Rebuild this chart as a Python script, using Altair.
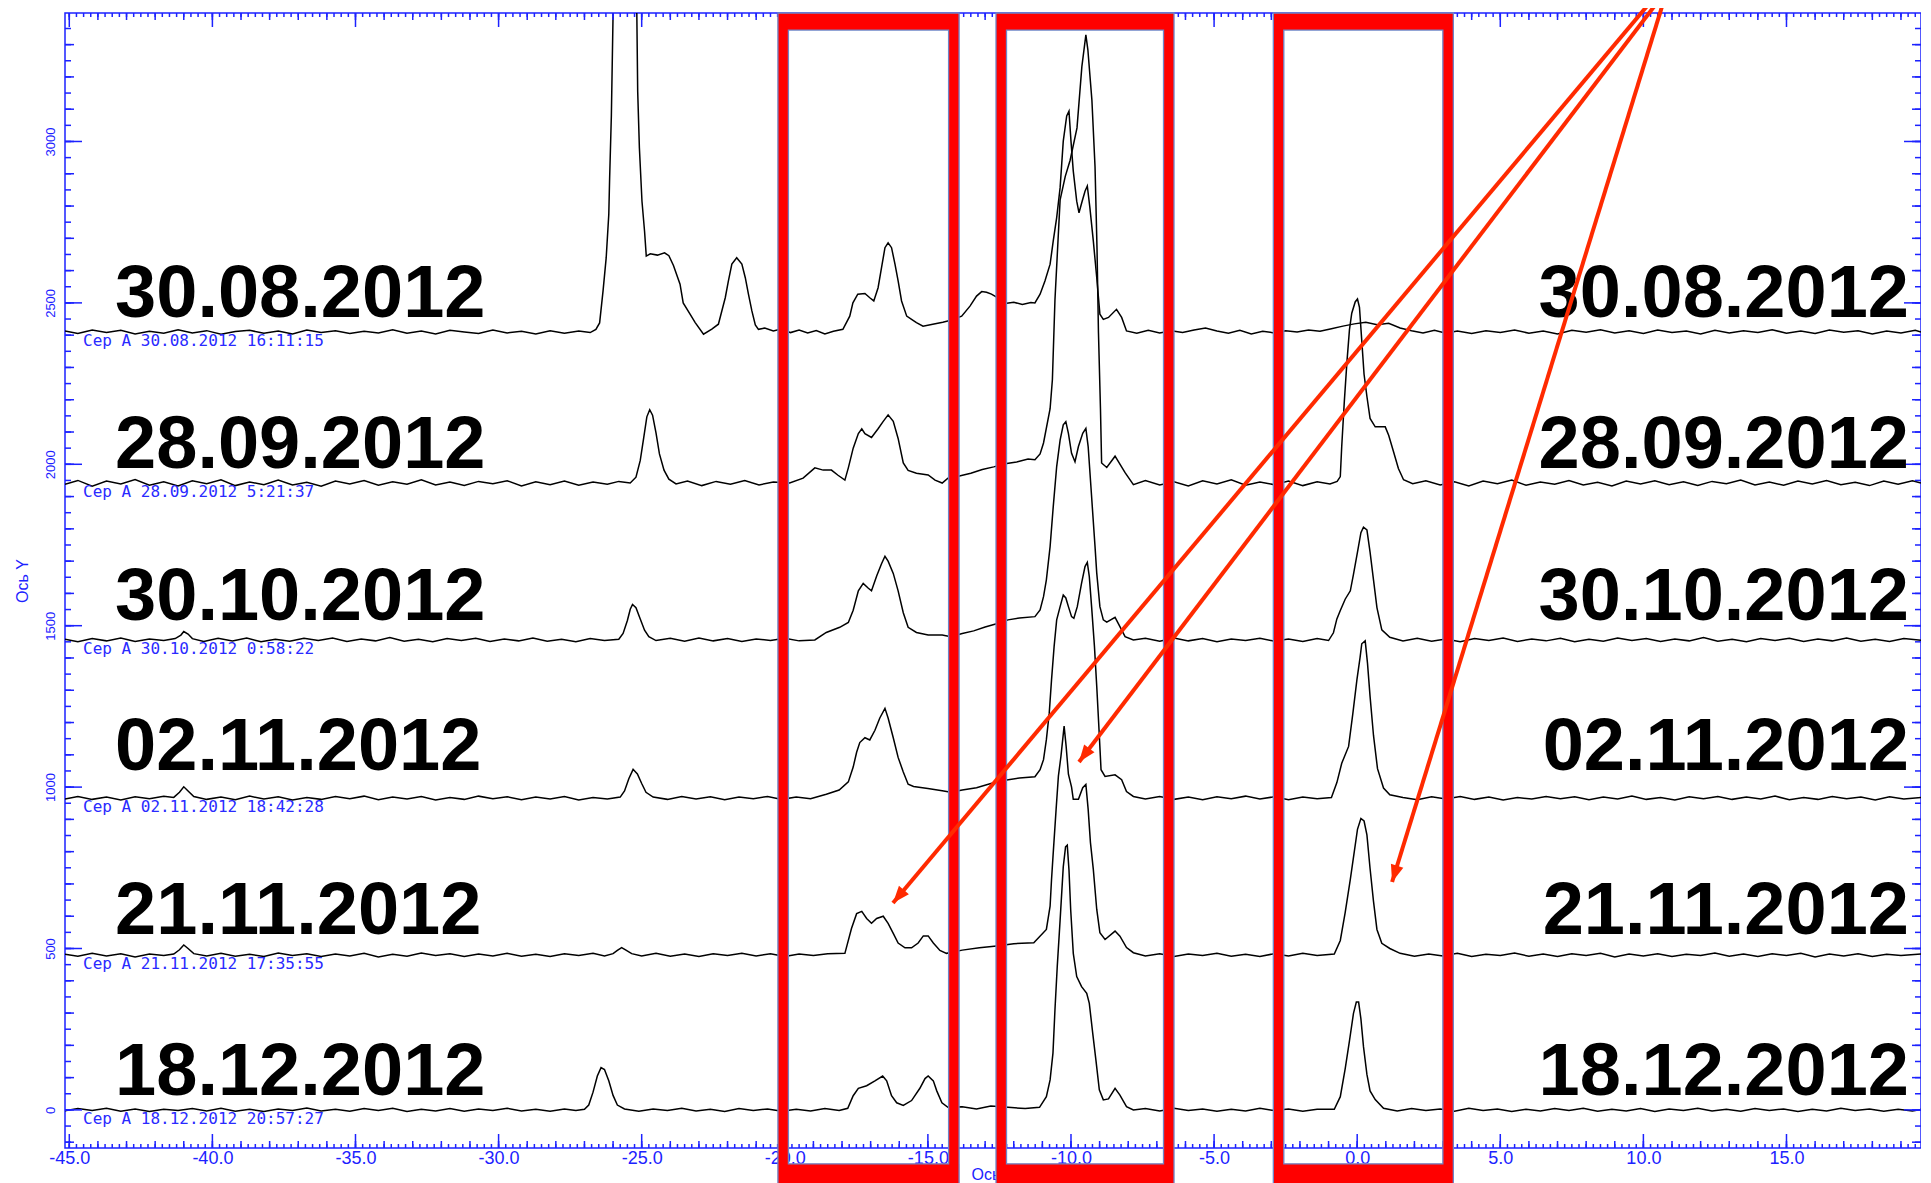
import math
import altair as alt
import pandas as pd
import numpy as np

# ---------------- data ----------------
dates = ["30.08.2012", "28.09.2012", "30.10.2012", "02.11.2012", "21.11.2012", "18.12.2012"]
stamps = ["Cep A 30.08.2012 16:11:15", "Cep A 28.09.2012 5:21:37", "Cep A 30.10.2012 0:58:22",
          "Cep A 02.11.2012 18:42:28", "Cep A 21.11.2012 17:35:55", "Cep A 18.12.2012 20:57:27"]
offsets = [2410, 1942, 1456, 966, 480, 0]          # vertical offset of each spectrum
label_y = [2455, 1990, 1517, 1052, 545, 46]         # baseline of the big date labels (data units)

# (velocity, intensity above own baseline)
spec_3008 = [(-45.15,3),(-44.7,-5),(-44.2,6),(-43.7,-2),(-43.2,5),(-42.7,-6),(-42.2,2),(-41.7,-4),(-41.2,7),(-40.7,-3),
 (-40.2,4),(-39.7,-7),(-39.2,1),(-38.7,5),(-38.2,-4),(-37.7,3),(-37.2,-6),(-36.7,6),(-36.2,-2),(-35.7,4),(-35.2,-5),
 (-34.7,2),(-34.2,-3),(-33.7,7),(-33.2,-4),(-32.7,3),(-32.2,-6),(-31.7,5),(-31.2,0),(-30.7,-5),(-30.2,6),(-29.7,-3),
 (-29.2,2),(-28.7,-6),(-28.2,4),(-27.7,-4),(-27.2,3),(-26.8,-2),(-26.6,8),(-26.47,28),(-26.35,127),(-26.24,230),
 (-26.15,364),(-26.12,477),(-26.06,669),(-26.0,985),(-25.6,1400),(-25.17,985),(-25.14,746),(-25.08,570),(-24.99,405),
 (-24.9,312),(-24.84,235),(-24.7,242),(-24.45,238),(-24.2,245),(-24.05,236),(-23.89,206),(-23.66,148),(-23.55,90),
 (-23.31,55),(-23.13,29),(-22.84,-7),(-22.55,9),(-22.32,24),(-22.2,65),(-22.08,106),(-21.97,158),(-21.85,210),
 (-21.68,230),(-21.5,210),(-21.38,168),(-21.27,117),(-21.15,65),(-21.03,22),(-20.92,8),(-20.7,12),(-20.4,3),(-20.1,10),
 (-19.8,-2),(-19.5,6),(-19.2,-3),(-18.9,4),(-18.6,-6),(-18.3,2),(-17.97,8),(-17.73,49),(-17.62,90),(-17.45,117),
 (-17.2,119),(-17.03,106),(-16.89,96),(-16.74,137),(-16.62,199),(-16.5,261),(-16.39,276),(-16.27,261),(-16.15,210),
 (-16.04,158),(-15.92,96),(-15.74,49),(-15.57,39),(-15.4,29),(-15.17,18),(-14.83,24),(-14.48,30),(-14.2,36),(-13.82,49),
 (-13.53,80),(-13.3,111),(-13.12,125),(-12.95,123),(-12.78,117),(-12.6,108),(-12.3,88),(-12.0,92),(-11.7,85),(-11.4,91),
 (-11.26,90),(-11.08,117),(-10.91,158),(-10.73,210),(-10.62,282),(-10.5,354),(-10.38,447),(-10.27,591),(-10.15,669),
 (-10.07,684),(-10.0,591),(-9.92,498),(-9.8,405),(-9.72,369),(-9.61,405),(-9.51,436),(-9.43,452),(-9.34,385),(-9.22,282),
 (-9.1,168),(-8.99,55),(-8.87,39),(-8.69,45),(-8.41,70),(-8.23,45),(-8.06,3),(-7.7,-4),(-7.3,5),(-6.9,-3),(-6.5,4),
 (-6.1,-2),(-5.7,6),(-5.3,12),(-4.9,3),(-4.5,-4),(-4.1,5),(-3.7,-6),(-3.3,2),(-2.9,-3),(-2.5,4),(-2.1,0),(-1.7,6),
 (-1.3,2),(-0.9,10),(-0.5,18),(-0.1,25),(0.3,30),(0.7,22),(1.1,27),(1.5,12),(1.9,4),(2.3,-3),(2.7,5),(3.1,-4),(3.5,3),
 (4.0,-5),(4.5,4),(5.0,-2),(5.5,6),(6.0,-4),(6.5,3),(7.0,-6),(7.5,5),(8.0,-1),(8.5,7),(9.0,-3),(9.5,4),(10.0,-5),
 (10.5,6),(11.0,-2),(11.5,3),(12.0,-6),(12.5,5),(13.0,-3),(13.5,4),(14.0,-2),(14.5,7),(15.0,-4),(15.5,3),(16.0,-5),
 (16.5,6),(17.0,-1),(17.5,4),(18.0,-6),(18.5,3),(19.0,-3),(19.5,5),(19.7,0)]

spec_2809 = [(-45.15,-4),(-44.7,8),(-44.2,-10),(-43.7,6),(-43.2,-3),(-42.7,11),(-42.2,-7),(-41.7,4),(-41.2,-9),(-40.7,7),
 (-40.2,-2),(-39.7,10),(-39.2,-8),(-38.7,3),(-38.2,-5),(-37.7,9),(-37.2,-6),(-36.7,2),(-36.2,-10),(-35.7,6),(-35.2,-3),
 (-34.7,8),(-34.2,-7),(-33.7,4),(-33.2,-4),(-32.7,10),(-32.2,-6),(-31.7,3),(-31.2,-8),(-30.7,5),(-30.2,-2),(-29.7,7),
 (-29.2,-9),(-28.7,4),(-28.2,-5),(-27.7,6),(-27.2,-7),(-26.7,3),(-26.2,-4),(-25.8,5),(-25.4,0),(-25.2,18),(-25.05,70),
 (-24.93,140),(-24.82,205),(-24.72,227),(-24.62,210),(-24.5,155),(-24.38,90),(-24.22,40),(-24.05,12),(-23.8,-3),
 (-23.4,6),(-22.9,-8),(-22.4,5),(-21.9,-4),(-21.4,8),(-20.9,-6),(-20.4,3),(-19.83,0),(-19.36,15),(-18.95,47),
 (-18.66,40),(-18.37,40),(-18.14,24),(-17.9,9),(-17.78,47),(-17.61,108),(-17.43,153),(-17.31,168),(-17.2,153),
 (-16.97,141),(-16.74,168),(-16.56,191),(-16.39,211),(-16.21,191),(-16.04,138),(-15.86,62),(-15.69,39),(-15.4,30),
 (-14.99,25),(-14.75,9),(-14.5,0),(-14.3,15),(-13.9,22),(-13.5,30),(-13.1,42),(-12.7,50),(-12.3,60),(-11.9,65),
 (-11.5,74),(-11.26,72),(-11.08,90),(-10.96,124),(-10.73,230),(-10.65,320),(-10.56,568),(-10.38,877),(-10.2,950),
 (-10.03,1000),(-9.79,1100),(-9.62,1290),(-9.48,1388),(-9.41,1342),(-9.27,1187),(-9.16,980),(-9.09,723),(-9.04,466),
 (-8.97,230),(-8.93,62),(-8.75,48),(-8.46,83),(-8.11,32),(-7.82,-5),(-7.4,8),(-6.9,-6),(-6.4,4),(-5.9,-9),(-5.4,7),
 (-4.9,-3),(-4.4,10),(-3.9,-7),(-3.4,3),(-2.9,-5),(-2.4,6),(-1.9,-8),(-1.4,4),(-0.95,-3),(-0.7,5),(-0.59,20),
 (-0.54,114),(-0.45,252),(-0.36,373),(-0.27,475),(-0.19,526),(-0.07,561),(0.01,570),(0.08,544),(0.16,441),(0.24,337),
 (0.34,268),(0.45,200),(0.63,174),(0.8,174),(0.98,174),(1.1,148),(1.27,97),(1.44,45),(1.62,10),(1.94,-2),(2.4,7),
 (2.9,-6),(3.4,4),(3.9,-9),(4.4,6),(4.9,-2),(5.4,9),(5.9,-7),(6.4,3),(6.9,-4),(7.4,8),(7.9,-6),(8.4,2),(8.9,-9),(9.4,6),
 (9.9,-3),(10.4,7),(10.9,-5),(11.4,4),(11.9,-8),(12.4,5),(12.9,-2),(13.4,9),(13.9,-6),(14.4,3),(14.9,-7),(15.4,6),
 (15.9,-3),(16.4,8),(16.9,-5),(17.4,2),(17.9,-8),(18.4,6),(18.9,-4),(19.4,7),(19.7,0)]

spec_3010 = [(-45.15,2),(-44.7,-6),(-44.2,4),(-43.7,-3),(-43.2,6),(-42.7,-5),(-42.2,3),(-41.7,-2),(-41.3,4),(-41.1,15),
 (-41.0,26),(-40.85,18),(-40.7,4),(-40.3,-5),(-39.8,5),(-39.3,-3),(-38.8,6),(-38.3,-6),(-37.8,2),(-37.3,-4),(-36.8,5),
 (-36.3,-2),(-35.8,6),(-35.3,-5),(-34.8,3),(-34.3,-3),(-33.8,7),(-33.3,-4),(-32.8,2),(-32.3,-6),(-31.8,4),(-31.3,-2),
 (-30.8,5),(-30.3,-5),(-29.8,3),(-29.3,-3),(-28.8,6),(-28.3,-4),(-27.8,2),(-27.3,-6),(-26.8,4),(-26.3,-2),(-25.8,2),
 (-25.65,20),(-25.5,60),(-25.4,95),(-25.32,110),(-25.2,100),(-25.05,65),(-24.9,30),(-24.75,10),(-24.5,-2),(-24.0,5),
 (-23.5,-4),(-23.0,6),(-22.5,-3),(-22.0,4),(-21.5,-5),(-21.0,3),(-20.5,-2),(-20.0,5),(-19.5,-3),(-18.95,0),(-18.55,23),
 (-18.08,39),(-17.78,54),(-17.61,92),(-17.43,152),(-17.26,175),(-17.08,160),(-16.97,152),(-16.79,198),(-16.62,236),
 (-16.5,259),(-16.39,244),(-16.21,206),(-16.04,152),(-15.86,84),(-15.69,39),(-15.4,23),(-14.99,15),(-14.5,15),
 (-14.2,10),(-13.8,20),(-13.4,28),(-13.0,40),(-12.6,50),(-12.2,62),(-11.8,68),(-11.26,72),(-11.08,93),(-10.96,134),
 (-10.86,186),(-10.73,289),(-10.62,413),(-10.5,537),(-10.38,619),(-10.27,666),(-10.18,676),(-10.09,640),(-9.98,578),
 (-9.86,552),(-9.74,599),(-9.59,640),(-9.48,655),(-9.4,599),(-9.28,444),(-9.16,289),(-9.1,207),(-8.99,103),(-8.87,62),
 (-8.75,55),(-8.46,70),(-8.29,41),(-8.11,10),(-7.82,0),(-7.4,5),(-6.9,-4),(-6.4,6),(-5.9,-3),(-5.4,4),(-4.9,-6),
 (-4.4,3),(-3.9,-2),(-3.4,5),(-2.9,-4),(-2.4,3),(-1.9,-5),(-1.4,4),(-1.0,-2),(-0.83,22),(-0.71,65),(-0.59,91),
 (-0.42,126),(-0.24,152),(-0.13,203),(0.01,272),(0.13,332),(0.22,349),(0.34,341),(0.45,272),(0.57,186),(0.69,100),
 (0.86,31),(1.14,8),(1.6,-3),(2.1,5),(2.6,-4),(3.1,3),(3.6,-6),(4.1,4),(4.6,-2),(5.1,6),(5.6,-5),(6.1,3),(6.6,-3),
 (7.1,5),(7.6,-6),(8.1,2),(8.6,-4),(9.1,6),(9.6,-2),(10.1,4),(10.6,-5),(11.1,3),(11.6,-3),(12.1,7),(12.6,-4),(13.1,2),
 (13.6,-6),(14.1,4),(14.6,-2),(15.1,5),(15.6,-5),(16.1,3),(16.6,-3),(17.1,6),(17.6,-4),(18.1,2),(18.6,-5),(19.1,4),
 (19.7,-1)]

spec_0211 = [(-45.15,-3),(-44.7,5),(-44.2,-4),(-43.7,3),(-43.2,-6),(-42.7,4),(-42.2,-2),(-41.7,6),(-41.35,2),(-41.15,18),
 (-41.0,35),(-40.85,22),(-40.65,5),(-40.2,-4),(-39.7,3),(-39.2,-5),(-38.7,6),(-38.2,-3),(-37.7,4),(-37.2,-6),(-36.7,2),
 (-36.2,-4),(-35.7,5),(-35.2,-2),(-34.7,6),(-34.2,-5),(-33.7,3),(-33.2,-3),(-32.7,5),(-32.2,-6),(-31.7,2),(-31.2,-4),
 (-30.7,6),(-30.2,-2),(-29.7,4),(-29.2,-5),(-28.7,3),(-28.2,-3),(-27.7,5),(-27.2,-6),(-26.7,2),(-26.2,-3),(-25.75,3),
 (-25.6,22),(-25.45,60),(-25.3,89),(-25.15,75),(-25.0,45),(-24.85,18),(-24.6,3),(-24.1,-4),(-23.6,5),(-23.1,-3),
 (-22.6,4),(-22.1,-5),(-21.6,3),(-21.1,-2),(-20.6,5),(-20.1,-4),(-19.6,3),(-19.1,-2),(-18.55,12),(-18.1,25),(-17.78,50),
 (-17.61,96),(-17.49,142),(-17.38,172),(-17.2,187),(-17.03,180),(-16.85,210),(-16.68,248),(-16.5,278),(-16.39,248),
 (-16.21,187),(-16.04,126),(-15.86,81),(-15.69,43),(-15.5,36),(-15.0,30),(-14.5,23),(-14.2,18),(-13.8,25),(-13.3,32),
 (-12.8,45),(-12.3,55),(-11.8,62),(-11.26,66),(-11.08,88),(-10.96,119),(-10.86,181),(-10.76,263),(-10.68,366),
 (-10.59,469),(-10.5,552),(-10.38,593),(-10.27,629),(-10.18,620),(-10.09,593),(-9.98,562),(-9.9,557),(-9.78,593),
 (-9.63,666),(-9.51,717),(-9.43,730),(-9.36,686),(-9.28,593),(-9.18,469),(-9.1,346),(-9.02,211),(-8.95,88),(-8.81,67),
 (-8.46,72),(-8.23,57),(-8.06,20),(-7.82,5),(-7.4,-3),(-6.9,5),(-6.4,-4),(-5.9,3),(-5.4,-5),(-4.9,4),(-4.4,-2),(-3.9,6),
 (-3.4,-3),(-2.9,4),(-2.4,-5),(-1.9,3),(-1.4,-2),(-0.9,2),(-0.71,48),(-0.54,108),(-0.3,160),(-0.15,263),(-0.01,366),
 (0.1,435),(0.16,478),(0.28,487),(0.36,418),(0.45,315),(0.57,194),(0.71,91),(0.92,31),(1.14,10),(1.6,2),(2.1,-5),
 (2.6,4),(3.1,-3),(3.6,5),(4.1,-4),(4.6,3),(5.1,-6),(5.6,2),(6.1,-3),(6.6,5),(7.1,-2),(7.6,4),(8.1,-5),(8.6,3),(9.1,-3),
 (9.6,6),(10.1,-4),(10.6,2),(11.1,-6),(11.6,4),(12.1,-2),(12.6,5),(13.1,-4),(13.6,3),(14.1,-3),(14.6,6),(15.1,-5),
 (15.6,2),(16.1,-4),(16.6,5),(17.1,-2),(17.6,3),(18.1,-6),(18.6,4),(19.1,-3),(19.7,2)]

spec_2111 = [(-45.15,2),(-44.7,-4),(-44.2,5),(-43.7,-3),(-43.2,4),(-42.7,-6),(-42.2,3),(-41.7,-2),(-41.35,3),(-41.15,16),
 (-41.0,31),(-40.85,20),(-40.65,4),(-40.2,-3),(-39.7,5),(-39.2,-4),(-38.7,2),(-38.2,-5),(-37.7,6),(-37.2,-2),(-36.7,4),
 (-36.2,-5),(-35.7,3),(-35.2,-3),(-34.7,5),(-34.2,-6),(-33.7,2),(-33.2,-4),(-32.7,6),(-32.2,-2),(-31.7,4),(-31.2,-5),
 (-30.7,3),(-30.2,-3),(-29.7,5),(-29.2,-4),(-28.7,2),(-28.2,-5),(-27.7,4),(-27.2,-2),(-26.7,5),(-26.3,-3),(-26.0,4),
 (-25.85,14),(-25.7,23),(-25.55,15),(-25.35,4),(-25.0,-3),(-24.5,5),(-24.0,-4),(-23.5,3),(-23.0,-5),(-22.5,4),(-22.0,-2),
 (-21.5,5),(-21.0,-3),(-20.5,4),(-20.0,-5),(-19.5,3),(-19.0,-2),(-18.5,4),(-17.9,5),(-17.67,82),(-17.49,128),
 (-17.31,135),(-17.14,113),(-16.97,98),(-16.79,113),(-16.56,120),(-16.39,98),(-16.21,67),(-16.04,37),(-15.8,22),
 (-15.57,22),(-15.34,37),(-15.16,59),(-14.99,59),(-14.81,37),(-14.58,14),(-14.35,5),(-13.8,15),(-13.2,22),(-12.6,28),
 (-12.0,35),(-11.3,38),(-10.86,79),(-10.73,151),(-10.68,234),(-10.62,317),(-10.52,451),(-10.44,554),(-10.35,616),
 (-10.24,709),(-10.17,647),(-10.09,560),(-9.98,520),(-9.92,482),(-9.74,482),(-9.59,518),(-9.48,528),(-9.4,451),
 (-9.32,348),(-9.22,265),(-9.1,141),(-8.99,69),(-8.81,48),(-8.46,74),(-8.29,58),(-8.06,23),(-7.82,7),(-7.4,-3),(-6.9,4),
 (-6.4,-5),(-5.9,3),(-5.4,-2),(-4.9,5),(-4.4,-4),(-3.9,2),(-3.4,-5),(-2.9,4),(-2.4,-3),(-1.9,5),(-1.4,-2),(-0.8,3),
 (-0.59,45),(-0.42,131),(-0.24,234),(-0.1,321),(0.01,389),(0.13,423),(0.24,415),(0.34,372),(0.45,268),(0.57,166),
 (0.69,79),(0.86,36),(1.14,20),(1.5,5),(2.0,-4),(2.5,3),(3.0,-3),(3.5,5),(4.0,-5),(4.5,2),(5.0,-2),(5.5,6),(6.0,-4),
 (6.5,3),(7.0,-5),(7.5,4),(8.0,-2),(8.5,5),(9.0,-6),(9.5,3),(10.0,-3),(10.5,4),(11.0,-5),(11.5,2),(12.0,-2),(12.5,6),
 (13.0,-4),(13.5,3),(14.0,-5),(14.5,4),(15.0,-2),(15.5,5),(16.0,-6),(16.5,3),(17.0,-3),(17.5,4),(18.0,-5),(18.5,2),
 (19.0,-2),(19.7,3)]

spec_1812 = [(-45.15,-3),(-44.7,4),(-44.2,-2),(-43.7,5),(-43.2,-4),(-42.7,3),(-42.2,-5),(-41.7,2),(-41.2,-2),(-40.7,4),
 (-40.2,-3),(-39.7,5),(-39.2,-4),(-38.7,2),(-38.2,-5),(-37.7,3),(-37.2,-2),(-36.7,6),(-36.2,-3),(-35.7,2),(-35.2,-4),
 (-34.7,4),(-34.2,-2),(-33.7,5),(-33.2,-5),(-32.7,2),(-32.2,-3),(-31.7,4),(-31.2,-4),(-30.7,3),(-30.2,-2),(-29.7,5),
 (-29.2,-3),(-28.7,2),(-28.2,-4),(-27.7,3),(-27.3,-2),(-27.0,2),(-26.85,15),(-26.7,55),(-26.55,105),(-26.42,131),
 (-26.3,125),(-26.15,90),(-26.0,45),(-25.85,15),(-25.6,3),(-25.1,-4),(-24.6,3),(-24.1,-2),(-23.6,5),(-23.1,-3),
 (-22.6,2),(-22.1,-5),(-21.6,4),(-21.1,-2),(-20.6,3),(-20.1,-4),(-19.6,2),(-19.1,-3),(-18.6,4),(-18.1,-2),(-17.8,5),
 (-17.61,44),(-17.43,67),(-17.14,75),(-16.85,90),(-16.58,105),(-16.44,90),(-16.27,44),(-16.09,22),(-15.86,14),
 (-15.57,29),(-15.28,67),(-15.1,97),(-14.99,105),(-14.81,90),(-14.69,59),(-14.51,22),(-14.3,8),(-13.8,10),(-13.3,3),
 (-12.8,12),(-12.2,8),(-11.6,4),(-11.1,8),(-10.86,41),(-10.73,93),(-10.63,176),(-10.56,310),(-10.48,444),(-10.38,588),
 (-10.27,753),(-10.19,815),(-10.13,820),(-10.07,743),(-10.01,619),(-9.92,485),(-9.8,413),(-9.63,382),(-9.45,361),
 (-9.36,330),(-9.24,237),(-9.13,155),(-9.01,62),(-8.87,31),(-8.69,34),(-8.46,67),(-8.29,46),(-8.06,10),(-7.82,0),
 (-7.4,4),(-6.9,-3),(-6.4,5),(-5.9,-2),(-5.4,3),(-4.9,-4),(-4.4,2),(-3.9,-3),(-3.4,5),(-2.9,-2),(-2.4,3),(-1.9,-4),
 (-1.4,2),(-0.8,2),(-0.59,41),(-0.42,127),(-0.27,214),(-0.13,299),(-0.03,334),(0.05,334),(0.13,282),(0.22,196),
 (0.34,110),(0.45,59),(0.63,32),(0.92,5),(1.4,-3),(1.9,4),(2.4,-2),(2.9,3),(3.4,-4),(3.9,5),(4.4,-2),(4.9,3),(5.4,-5),
 (5.9,2),(6.4,-3),(6.9,4),(7.4,-2),(7.9,5),(8.4,-4),(8.9,2),(9.4,-3),(9.9,4),(10.4,-5),(10.9,3),(11.4,-2),(11.9,5),
 (12.4,-3),(12.9,2),(13.4,-4),(13.9,4),(14.4,-2),(14.9,3),(15.4,-5),(15.9,2),(16.4,-3),(16.9,5),(17.4,-2),(17.9,3),
 (18.4,-4),(18.9,2),(19.4,-3),(19.7,1)]

spectra = [spec_3008, spec_2809, spec_3010, spec_0211, spec_2111, spec_1812]

# annotation boxes (velocity range of the outer red frame)
box_left = [-20.24, -12.62, -2.93]
box_right = [-13.91, -6.40, 3.36]

# arrows: start (off the top) and tip, in data units
arrow_x0 = [10.74, 10.94, 10.88]
arrow_y0 = [3484, 3484, 3484]
arrow_x1 = [-16.22, -9.72, 1.22]
arrow_y1 = [641, 1078, 706]

x_label_values = [-45, -40, -35, -30, -25, -20, -15, -10, -5, 0, 5, 10, 15, 20]
y_label_values = [0, 500, 1000, 1500, 2000, 2500, 3000]

# ---------------- layout / style ----------------
X_DOM = [-45.15, 19.7]
Y_DOM = [-118, 3398]
W, H = 1856, 1135
BLUE = "#1c22ff"
RED = "#ff0000"
ARROW = "#ff2a00"
NARROW = "Liberation Sans Narrow, Liberation Sans, Arial"
pxx = W / (X_DOM[1] - X_DOM[0])     # px per velocity unit
pxy = H / (Y_DOM[1] - Y_DOM[0])     # px per intensity unit

xs = alt.Scale(domain=X_DOM, nice=False, zero=False)
ys = alt.Scale(domain=Y_DOM, nice=False, zero=False)

rows = []
for d, off, sp in zip(dates, offsets, spectra):
    for v, r in sp:
        rows.append({"date": d, "v": v, "I": r + off})
df = pd.DataFrame(rows)

lines = alt.Chart(df).mark_line(color="black", strokeWidth=1.5, clip=True).encode(
    x=alt.X("v:Q", scale=xs, axis=alt.Axis(
        values=x_label_values, labelExpr="replace(format(datum.value, '.1f'), '\u2212', '-')",
        labelPadding=1, labelFont=NARROW, labelFontSize=18, labelColor=BLUE, labelBaseline="top",
        title="Ось X", titleColor=BLUE, titleFont="Liberation Sans", titleFontSize=16,
        titleFontWeight="normal", titleX=W / 2, titleY=31, titleBaseline="alphabetic")),
    y=alt.Y("I:Q", scale=ys, axis=alt.Axis(
        values=y_label_values, format="d",
        labelAngle=270, labelAlign="center", labelBaseline="bottom", labelPadding=8,
        labelFont=NARROW, labelFontSize=13, labelColor=BLUE,
        title="Ось Y", titleColor=BLUE, titleFont="Liberation Sans", titleFontSize=16,
        titleFontWeight="normal", titleAngle=270, titleX=-43, titleY=H / 2,
        titleAlign="center", titleBaseline="middle")),
    detail="date:N",
)

# inward ticks on all four sides, as short segments (lengths in px converted to data units)
tick_rows = []


def add_xticks(vals, length):
    for t in vals:
        tick_rows.append(dict(v=t, v2=t, I=Y_DOM[0], I2=Y_DOM[0] + length / pxy))
        tick_rows.append(dict(v=t, v2=t, I=Y_DOM[1], I2=Y_DOM[1] - length / pxy))


def add_yticks(vals, length):
    for t in vals:
        tick_rows.append(dict(v=X_DOM[0], v2=X_DOM[0] + length / pxx, I=t, I2=t))
        tick_rows.append(dict(v=X_DOM[1], v2=X_DOM[1] - length / pxx, I=t, I2=t))


add_xticks(np.arange(-45.0, 19.51, 0.25), 4)
add_xticks(np.arange(-45.0, 19.51, 1.0), 7)
add_xticks(np.arange(-45.0, 19.51, 5.0), 14)
add_yticks(np.arange(-100, 3351, 50), 6)
add_yticks(np.arange(-100, 3351, 100), 9)
add_yticks(np.arange(0, 3351, 500), 17)

ticks_layer = alt.Chart(pd.DataFrame(tick_rows)).mark_rule(color=BLUE, strokeWidth=1.5).encode(
    x=alt.X("v:Q", scale=xs), x2="v2:Q", y=alt.Y("I:Q", scale=ys), y2="I2:Q")

stamp_df = pd.DataFrame({"v": [-44.52] * 6, "I": offsets, "t": stamps})
stamp_layer = alt.Chart(stamp_df).mark_text(
    align="left", baseline="alphabetic", dy=14, font="DejaVu Sans Mono", fontSize=16, color="#2a2aff"
).encode(x=alt.X("v:Q", scale=xs), y=alt.Y("I:Q", scale=ys), text="t:N")

lab_df = pd.DataFrame({"d": dates, "I": label_y, "v": [-43.40] * 6, "vr": [19.28] * 6})
big_left = alt.Chart(lab_df).mark_text(
    align="left", baseline="alphabetic", font="Liberation Sans", fontWeight="bold", fontSize=74, color="black"
).encode(x=alt.X("v:Q", scale=xs), y=alt.Y("I:Q", scale=ys), text="d:N")
big_right = alt.Chart(lab_df).mark_text(
    align="right", baseline="alphabetic", font="Liberation Sans", fontWeight="bold", fontSize=74, color="black"
).encode(x=alt.X("vr:Q", scale=xs), y=alt.Y("I:Q", scale=ys), text="d:N")

# red frames: four bars per box
T = 10.5 / pxx          # side bar thickness (10.5 px) in data units
TOP_IN, BOT_IN, BOT_OUT = 3345, -167, -245
bars = []
outl = []
for L, R in zip(box_left, box_right):
    bars += [dict(v=L, b=L + T, I=BOT_OUT, e=Y_DOM[1]), dict(v=R - T, b=R, I=BOT_OUT, e=Y_DOM[1]),
             dict(v=L, b=R, I=TOP_IN, e=Y_DOM[1]), dict(v=L, b=R, I=BOT_OUT, e=BOT_IN)]
    outl += [dict(v=L, b=R, I=BOT_OUT, e=Y_DOM[1]), dict(v=L + T, b=R - T, I=BOT_IN, e=TOP_IN)]
bars_layer = alt.Chart(pd.DataFrame(bars)).mark_rect(color=RED).encode(
    x=alt.X("v:Q", scale=xs), x2="b:Q", y=alt.Y("I:Q", scale=ys), y2="e:Q")
outline_layer = alt.Chart(pd.DataFrame(outl)).mark_rect(
    filled=False, stroke="#6f86c8", strokeWidth=1.3).encode(
    x=alt.X("v:Q", scale=xs), x2="b:Q", y=alt.Y("I:Q", scale=ys), y2="e:Q")

# arrows
angs = []
for a, b, c, e in zip(arrow_x0, arrow_y0, arrow_x1, arrow_y1):
    dx = (c - a) * pxx
    dy = -(e - b) * pxy
    angs.append(math.degrees(math.atan2(dx, -dy)) % 360)
arr_df = pd.DataFrame({"v": arrow_x0, "I": arrow_y0, "x1": arrow_x1, "y1": arrow_y1})
arrow_lines = alt.Chart(arr_df).mark_rule(color=ARROW, strokeWidth=4).encode(
    x=alt.X("v:Q", scale=xs), y=alt.Y("I:Q", scale=ys), x2="x1:Q", y2="y1:Q")
head_df = pd.DataFrame({"v": arrow_x1, "I": arrow_y1, "ang": angs})
arrow_heads = alt.Chart(head_df).mark_point(
    shape="M0,0L0.65,1.7L-0.65,1.7Z", filled=True, size=400, color=ARROW, opacity=1, strokeWidth=0
).encode(x=alt.X("v:Q", scale=xs), y=alt.Y("I:Q", scale=ys),
         angle=alt.Angle("ang:Q", scale=None))

chart = alt.layer(
    lines, ticks_layer, stamp_layer, big_left, big_right, bars_layer, outline_layer, arrow_lines, arrow_heads
).properties(
    width=W, height=H,
    autosize=alt.AutoSizeParams(type="none"),
    padding={"left": 57, "top": 5, "right": 0, "bottom": 35},
    background="white",
).configure_view(
    stroke=BLUE, strokeWidth=1.5
).configure_axis(
    grid=False, domain=False, ticks=False, tickSize=0, labelOverlap=False, labelFlush=False
)

chart.save("out.html", embed_options={"renderer": "svg", "actions": False})
